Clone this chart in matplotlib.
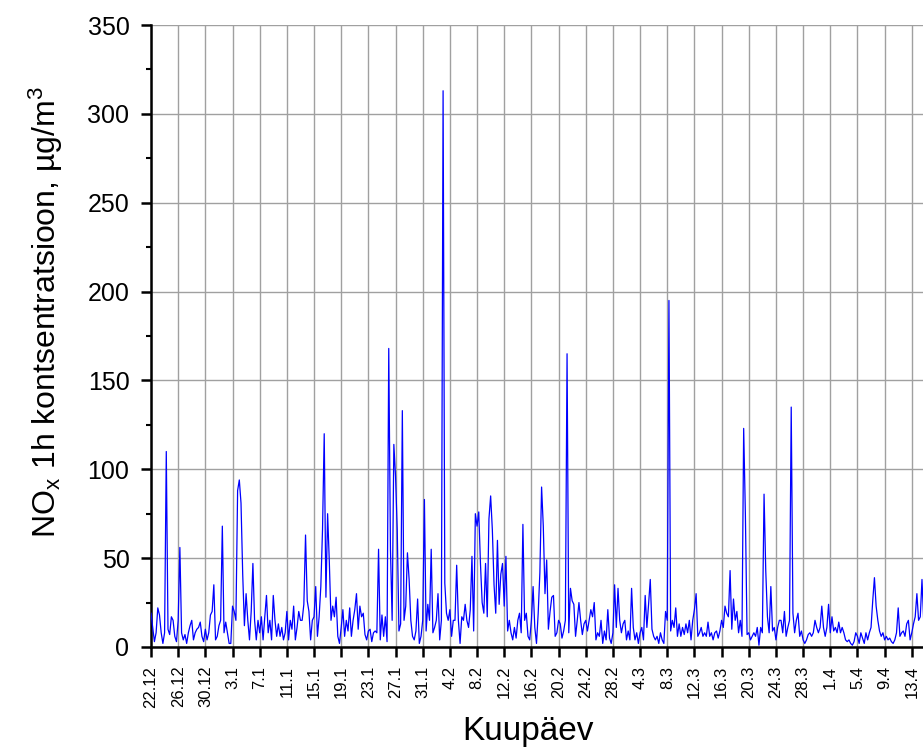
import numpy as np
import matplotlib
matplotlib.use("Agg")
import matplotlib.pyplot as plt
from matplotlib.ticker import MultipleLocator

plt.rcParams['font.family'] = ['Liberation Sans', 'DejaVu Sans']
plt.rcParams['mathtext.fontset'] = 'custom'
plt.rcParams['mathtext.rm'] = 'Liberation Sans'
plt.rcParams['mathtext.it'] = 'Liberation Sans'

# 6-hourly NOx values (µg/m3), one row per day starting 22.12
nox_day_00_05 = [[19, 11, 3, 8], [22, 18, 8, 2], [8, 110, 10, 7], [17, 15, 6, 3], [15, 56, 8, 4], [7, 2, 8, 12]]
nox_day_06_11 = [[15, 4, 8, 10], [11, 14, 6, 3], [10, 4, 8, 18], [20, 35, 4, 6], [12, 15, 68, 8], [14, 8, 2, 2]]
nox_day_12_17 = [[23, 20, 15, 88], [94, 81, 41, 12], [30, 15, 4, 20], [47, 15, 4, 15], [8, 17, 4, 17], [29, 8, 15, 4]]
nox_day_18_23 = [[29, 15, 6, 13], [6, 11, 4, 8], [20, 4, 15, 10], [23, 4, 11, 20], [15, 15, 24, 63], [26, 20, 4, 15]]
nox_day_24_29 = [[17, 34, 6, 17], [34, 66, 120, 28], [75, 48, 15, 23], [17, 28, 6, 2], [11, 21, 6, 15], [9, 22, 6, 15]]
nox_day_30_35 = [[21, 30, 10, 23], [17, 19, 7, 4], [9, 10, 3, 8], [9, 8, 55, 4], [18, 6, 17, 3], [168, 55, 15, 114]]
nox_day_36_41 = [[96, 66, 9, 13], [133, 15, 23, 53], [38, 15, 6, 4], [9, 27, 2, 6], [15, 83, 9, 24], [15, 55, 8, 11]]
nox_day_42_47 = [[15, 30, 4, 15], [313, 36, 19, 15], [21, 6, 15, 15], [46, 15, 2, 17], [15, 24, 15, 11], [21, 51, 9, 75]]
nox_day_48_53 = [[68, 76, 47, 25], [19, 47, 17, 72], [85, 66, 35, 19], [60, 24, 41, 47], [23, 51, 9, 15], [8, 4, 11, 5]]
nox_day_54_59 = [[15, 19, 8, 69], [15, 19, 6, 4], [15, 34, 11, 2], [19, 42, 90, 68], [30, 49, 10, 20], [28, 29, 6, 8]]
nox_day_60_65 = [[15, 13, 5, 9], [15, 165, 8, 33], [26, 24, 6, 15], [25, 15, 7, 13], [15, 9, 15, 21], [17, 25, 4, 8]]
nox_day_66_71 = [[6, 15, 2, 9], [4, 21, 5, 2], [8, 35, 11, 33], [15, 8, 13, 15], [4, 9, 4, 33], [11, 4, 8, 2]]
nox_day_72_77 = [[8, 11, 4, 29], [11, 24, 38, 10], [6, 4, 6, 2], [8, 4, 2, 20], [15, 195, 9, 15], [11, 22, 6, 13]]
nox_day_78_83 = [[6, 11, 7, 13], [8, 15, 4, 15], [21, 30, 6, 8], [11, 6, 8, 6], [14, 6, 8, 4], [8, 9, 5, 9]]
nox_day_84_89 = [[15, 11, 23, 19], [17, 43, 10, 27], [15, 20, 8, 15], [6, 123, 75, 7], [8, 4, 6, 8], [6, 11, 1, 11]]
nox_day_90_95 = [[8, 86, 43, 17], [8, 34, 9, 11], [4, 11, 15, 15], [8, 20, 6, 11], [15, 135, 19, 8], [15, 19, 6, 9]]
nox_day_96_101 = [[4, 2, 4, 7], [8, 6, 8, 15], [11, 8, 11, 23], [11, 6, 11, 24], [8, 17, 9, 11], [8, 14, 8, 11]]
nox_day_102_107 = [[8, 4, 3, 4], [2, 1, 3, 8], [6, 2, 8, 5], [2, 8, 4, 8], [11, 26, 39, 23], [15, 9, 6, 8]]
nox_day_108_113 = [[4, 6, 4, 5], [3, 2, 4, 8], [22, 6, 8, 9], [6, 13, 15, 4], [8, 13, 17, 30], [15, 17, 38, 15]]

date_labels = ["22.12", "26.12", "30.12", "3.1", "7.1", "11.1", "15.1", "19.1", "23.1",
               "27.1", "31.1", "4.2", "8.2", "12.2", "16.2", "20.2", "24.2", "28.2",
               "4.3", "8.3", "12.3", "16.3", "20.3", "24.3", "28.3", "1.4", "5.4",
               "9.4", "13.4"]
label_step_days = 4
samples_per_day = 4

blocks = [nox_day_00_05, nox_day_06_11, nox_day_12_17, nox_day_18_23, nox_day_24_29,
          nox_day_30_35, nox_day_36_41, nox_day_42_47, nox_day_48_53, nox_day_54_59,
          nox_day_60_65, nox_day_66_71, nox_day_72_77, nox_day_78_83, nox_day_84_89,
          nox_day_90_95, nox_day_96_101, nox_day_102_107, nox_day_108_113]
values = np.array([v for b in blocks for day in b for v in day], dtype=float)
t = np.arange(len(values)) / samples_per_day

fig = plt.figure(figsize=(9.23, 7.51), dpi=100)
ax = fig.add_axes([0.1636, 0.1385, 0.8364, 0.8282])

ax.plot(t, values, color='#0000FF', lw=0.9, zorder=3)

ax.set_xlim(0, 113.65)
ax.set_ylim(0, 350)

ticks = np.arange(len(date_labels)) * label_step_days
ax.set_xticks(ticks)
ax.set_xticklabels(date_labels, rotation=90, fontsize=12)
ax.yaxis.set_major_locator(MultipleLocator(50))
ax.yaxis.set_minor_locator(MultipleLocator(25))
ax.tick_params(axis='y', labelsize=18, pad=8.5)
ax.tick_params(axis='x', pad=6.5)

ax.grid(True, which='major', color='#a0a0a0', lw=1.0, zorder=0)
ax.set_axisbelow(True)

for s in ['top', 'right']:
    ax.spines[s].set_visible(False)
for s in ['left', 'bottom']:
    ax.spines[s].set_linewidth(1.8)

ax.tick_params(which='major', direction='out', length=7, width=1.8)
ax.tick_params(which='minor', direction='out', length=3.5, width=1.5)

ax.set_ylabel('NO$_\\mathrm{x}$ 1h kontsentratsioon, µg/m$^\\mathrm{3}$', fontsize=23)
ax.yaxis.set_label_coords(-0.112, 0.538)
ax.set_xlabel('Kuupäev', fontsize=24)
ax.xaxis.set_label_coords(0.488, -0.111)

fig.savefig('out.png', dpi=100)
